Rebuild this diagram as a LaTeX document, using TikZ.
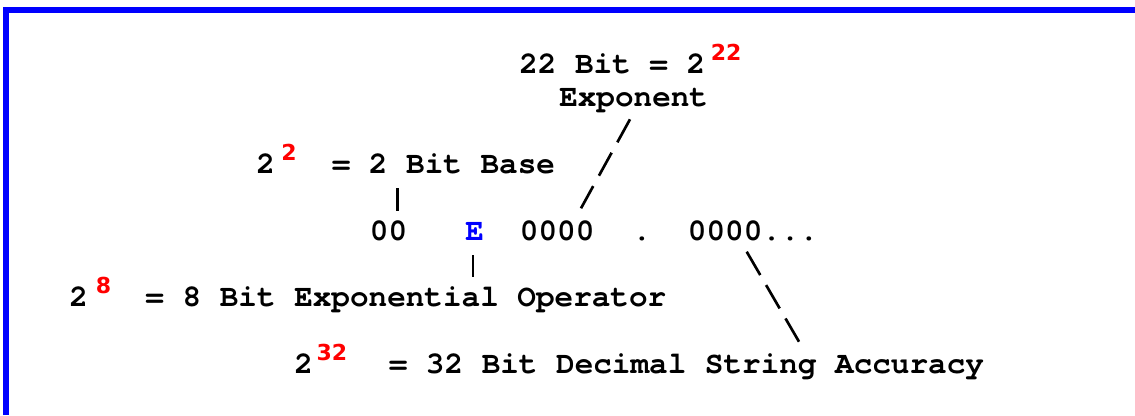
\documentclass[tikz,border=0pt]{standalone}
\usepackage{fontspec}
\newfontfamily\codefont{texgyrecursor-regular.otf}[BoldFont=texgyrecursor-bold.otf]
\newfontfamily\powfont{DejaVu Sans}
\definecolor{powred}{RGB}{255,0,0}
\definecolor{frameblue}{RGB}{0,0,255}
\tikzset{
	txt/.style={anchor=base west, inner sep=0pt, font=\codefont\bfseries\fontsize{23.25}{28}\selectfont},
	power/.style={anchor=base west, inner sep=0pt, text=powred, font=\powfont\bfseries\fontsize{16.5}{20}\selectfont},
	link/.style={line width=2pt, black},
}

\begin{document}
\begin{tikzpicture}[x=0.75pt,y=-0.75pt]
	\useasboundingbox (0,0) rectangle (1135,415);
	\fill[white] (0,0) rectangle (1135,415);
	\draw[frameblue, line width=4.5pt] (6,415) -- (6,10.3) -- (1135,10.3);

	\node[txt] (expbits) at (519,73) {22 Bit = 2};
	\node[power] (exppow) at (710.5,60) {22};
	\node[txt] (explabel) at (559,106) {Exponent};

	\node[txt] (basetwo) at (256,173) {2};
	\node[power] (basepow) at (281,160) {2};
	\node[txt] (baselabel) at (331.5,173) {= 2 Bit Base};

	\node[txt] (base) at (369.7,240) {00};
	\node[txt, text=frameblue] (oper) at (465,240) {E};
	\node[txt] (expo) at (519.7,240) {0000};
	\node[txt] (point) at (632.4,240) {.};
	\node[txt] (frac) at (687.7,240) {0000...};

	\node[txt] (opertwo) at (69.2,306.8) {2};
	\node[power] (operpow) at (95.7,293.8) {8};
	\node[txt] (operlabel) at (145.2,306.8) {= 8 Bit Exponential Operator};

	\node[txt] (fractwo) at (294.2,373.6) {2};
	\node[power] (fracpow) at (316.3,360.6) {32};
	\node[txt] (fraclabel) at (388.5,373.6) {= 32 Bit Decimal String Accuracy};

	\coordinate (expoA) at (630,119.3);
	\coordinate (expoB) at (581,208.3);
	\coordinate (baseA) at (397.7,188);
	\coordinate (baseB) at (397.7,210.7);
	\coordinate (operA) at (473,255);
	\coordinate (operB) at (473,276.7);
	\coordinate (fracA) at (746.7,251.7);
	\coordinate (fracB) at (799,341.7);

	\draw[link, dash pattern=on 19.7pt off 8.9pt] (expoA) -- (expoB);
	\draw[link] (baseA) -- (baseB);
	\draw[link] (operA) -- (operB);
	\draw[link, dash pattern=on 20.25pt off 8.7pt] (fracA) -- (fracB);
\end{tikzpicture}
\end{document}
